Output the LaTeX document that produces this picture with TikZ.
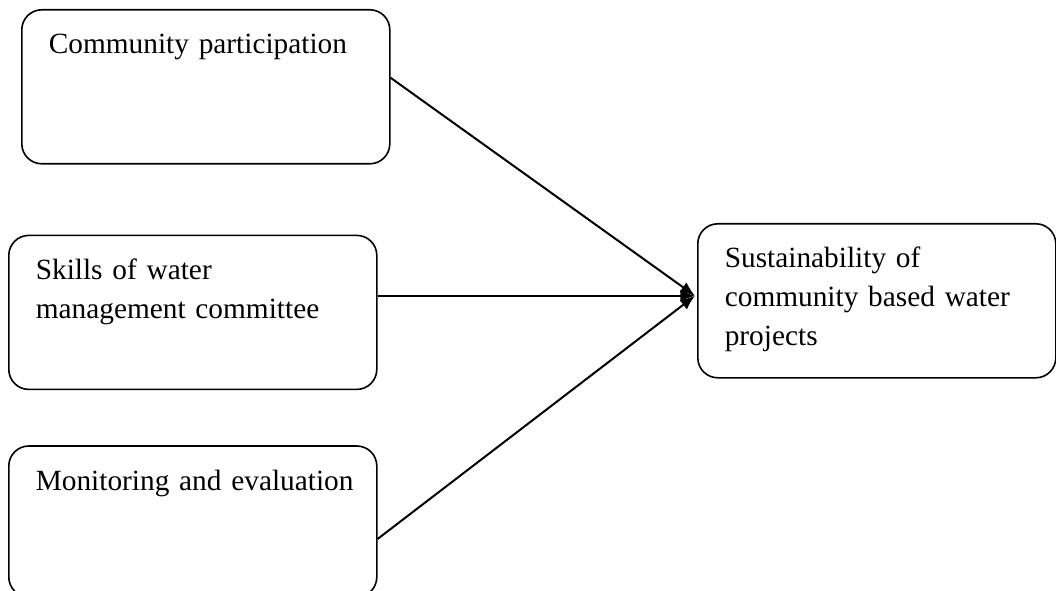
\documentclass[tikz,border=0pt]{standalone}
\usepackage{fontspec}
\setmainfont{Liberation Serif}
\usetikzlibrary{arrows.meta, positioning}

\begin{document}
\begin{tikzpicture}[
    node distance=52.5pt,
    factor/.style={draw, rounded corners=15pt, line width=1.2pt, anchor=north west,
                   inner xsep=20.25pt, inner ysep=0pt, align=left,
                   text width=235.5pt, text height=33pt, text depth=82.5pt,
                   font=\fontsize{22}{29.25}\selectfont},
    outcome/.style={factor, text width=228pt},
    arr/.style={-{Latex[length=11pt, width=9pt]}, line width=1.5pt}
  ]
  \useasboundingbox (0,0) rectangle (792pt,-443.25pt);

  \node[factor] (part) at (15.75pt,-6.75pt) {Community participation};
  \node[factor, below=of part.south west, anchor=north west, xshift=-9.75pt] (skill)
    {Skills of water\\management committee};
  \node[factor, below=41.25pt of skill.south west, anchor=north west, text depth=80.25pt] (mon)
    {\mbox{Monitoring and evaluation}};

  \node[outcome] (sus) at (522.75pt,-167.25pt)
    {Sustainability of\\community based water\\projects};
  \coordinate (hub) at ([xshift=-1.5pt, yshift=3.75pt]sus.west);

  \draw[arr] ([yshift=6.75pt]part.east) -- (hub);
  \draw[arr] (skill.east |- hub) -- (hub);
  \draw[arr] ([yshift=-13.1pt]mon.east) -- (hub);
\end{tikzpicture}
\end{document}
